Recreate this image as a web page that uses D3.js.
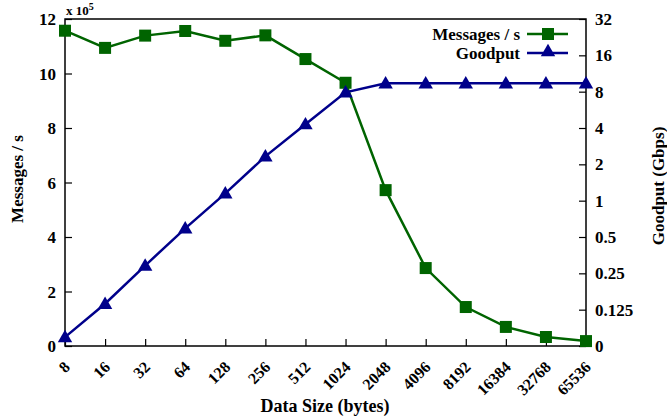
<!DOCTYPE html>
<html>
<head>
<meta charset="utf-8">
<script src="https://cdn.jsdelivr.net/npm/d3@7"></script>
<style>
  body { margin: 0; background: #fff; }
  svg text { font-family: "Liberation Serif", serif; font-weight: bold; }
</style>
</head>
<body>
<svg width="667" height="420"></svg>
<script>
// data
var sizes = ["8", "16", "32", "64", "128", "256", "512", "1024", "2048", "4096", "8192", "16384", "32768", "65536"];
var messages = [11.57, 10.94, 11.39, 11.56, 11.2, 11.4, 10.53, 9.66, 5.72, 2.86, 1.43, 0.7, 0.33, 0.18]; // x 10^5
var goodput = [0.074, 0.14, 0.29, 0.59, 1.15, 2.33, 4.3, 7.9, 9.4, 9.4, 9.4, 9.4, 9.4, 9.4]; // Gbps
var leftTicks = [0, 2, 4, 6, 8, 10, 12];
var rightTicks = [0.0625, 0.125, 0.25, 0.5, 1, 2, 4, 8, 16, 32];
var rightLabels = ["0", "0.125", "0.25", "0.5", "1", "2", "4", "8", "16", "32"];

var green = "#006400", blue = "#00008b";

var svg = d3.select("svg");
var margin = {top: 19, right: 81, bottom: 74, left: 65};
var width = 667 - margin.left - margin.right;
var height = 420 - margin.top - margin.bottom;
var g = svg.append("g").attr("transform", "translate(" + margin.left + "," + margin.top + ")");

var x = d3.scalePoint().domain(sizes).range([0, width]);
var y = d3.scaleLinear().domain([0, 12]).range([height, 0]);
var y2 = d3.scaleLog().base(2).domain([0.0625, 32]).range([height, 0]);

// frame
g.append("rect")
  .attr("width", width).attr("height", height)
  .attr("fill", "none").attr("stroke", "#000").attr("stroke-width", 1.5);

// axes, ticks point inward, labels drawn separately
g.append("g").attr("transform", "translate(0," + height + ")")
  .call(d3.axisTop(x).tickSize(7).tickFormat(""));
g.append("g")
  .call(d3.axisRight(y).tickValues(leftTicks).tickSize(7).tickFormat(""));
g.append("g").attr("transform", "translate(" + width + ",0)")
  .call(d3.axisLeft(y2).tickValues(rightTicks).tickSize(7).tickFormat(""));
g.selectAll(".domain").remove();
g.selectAll(".tick text").remove();
g.selectAll(".tick line").attr("stroke", "#000").attr("stroke-width", 1.2);

var labels = svg.append("g").attr("fill", "#000").attr("font-size", 17);
labels.selectAll(".xl").data(sizes).enter().append("text")
  .attr("text-anchor", "end")
  .attr("font-size", 16)
  .attr("transform", function(d) {
    return "translate(" + (margin.left + x(d) + 6) + "," + (margin.top + height + 22) + ") rotate(-45)";
  })
  .text(function(d) { return d; });
labels.selectAll(".yl").data(leftTicks).enter().append("text")
  .attr("text-anchor", "end")
  .attr("x", margin.left - 9)
  .attr("y", function(d) { return margin.top + y(d) + 6; })
  .text(function(d) { return d; });
labels.selectAll(".y2l").data(rightTicks).enter().append("text")
  .attr("text-anchor", "start")
  .attr("x", margin.left + width + 9)
  .attr("y", function(d) { return margin.top + y2(d) + 6; })
  .text(function(d, i) { return rightLabels[i]; });

// x 10^5
var mult = svg.append("text").attr("x", 66).attr("y", 15).attr("font-size", 13);
mult.append("tspan").text("x 10");
mult.append("tspan").attr("font-size", 10).attr("dy", -5).text("5");

// axis titles
svg.append("text")
  .attr("transform", "translate(23,179) rotate(-90)")
  .attr("text-anchor", "middle").attr("font-size", 17)
  .text("Messages / s");
svg.append("text")
  .attr("transform", "translate(664,186) rotate(-90)")
  .attr("text-anchor", "middle").attr("font-size", 17)
  .text("Goodput (Gbps)");
svg.append("text")
  .attr("x", 325).attr("y", 412)
  .attr("text-anchor", "middle").attr("font-size", 18)
  .text("Data Size (bytes)");

// series
var lineMsg = d3.line().x(function(d, i) { return x(sizes[i]); }).y(function(d) { return y(d); });
var lineGp = d3.line().x(function(d, i) { return x(sizes[i]); }).y(function(d) { return y2(d); });
var tri = d3.symbol().type(d3.symbolTriangle).size(90);

g.append("path").datum(messages)
  .attr("d", lineMsg).attr("fill", "none").attr("stroke", green).attr("stroke-width", 2.5);
g.selectAll(".sq").data(messages).enter().append("rect")
  .attr("x", function(d, i) { return x(sizes[i]) - 6; })
  .attr("y", function(d) { return y(d) - 6; })
  .attr("width", 12).attr("height", 12)
  .attr("fill", green);

g.append("path").datum(goodput)
  .attr("d", lineGp).attr("fill", "none").attr("stroke", blue).attr("stroke-width", 2.5);
g.selectAll(".tri").data(goodput).enter().append("path")
  .attr("d", tri)
  .attr("transform", function(d, i) { return "translate(" + x(sizes[i]) + "," + (y2(d) + 1) + ")"; })
  .attr("fill", blue);

// legend
var legend = svg.append("g");
var items = [{name: "Messages / s", color: green, mark: "sq"}, {name: "Goodput", color: blue, mark: "tri"}];
items.forEach(function(it, i) {
  var ly = 34 + i * 19;
  legend.append("text").attr("x", 520).attr("y", ly + 6)
    .attr("text-anchor", "end").attr("font-size", 17).text(it.name);
  legend.append("line").attr("x1", 527).attr("x2", 568).attr("y1", ly).attr("y2", ly)
    .attr("stroke", it.color).attr("stroke-width", 2.5);
  if (it.mark == "sq") {
    legend.append("rect").attr("x", 542).attr("y", ly - 6).attr("width", 12).attr("height", 12).attr("fill", it.color);
  } else {
    legend.append("path").attr("d", tri).attr("transform", "translate(548," + (ly - 1) + ")").attr("fill", it.color);
  }
});
</script>
</body>
</html>
